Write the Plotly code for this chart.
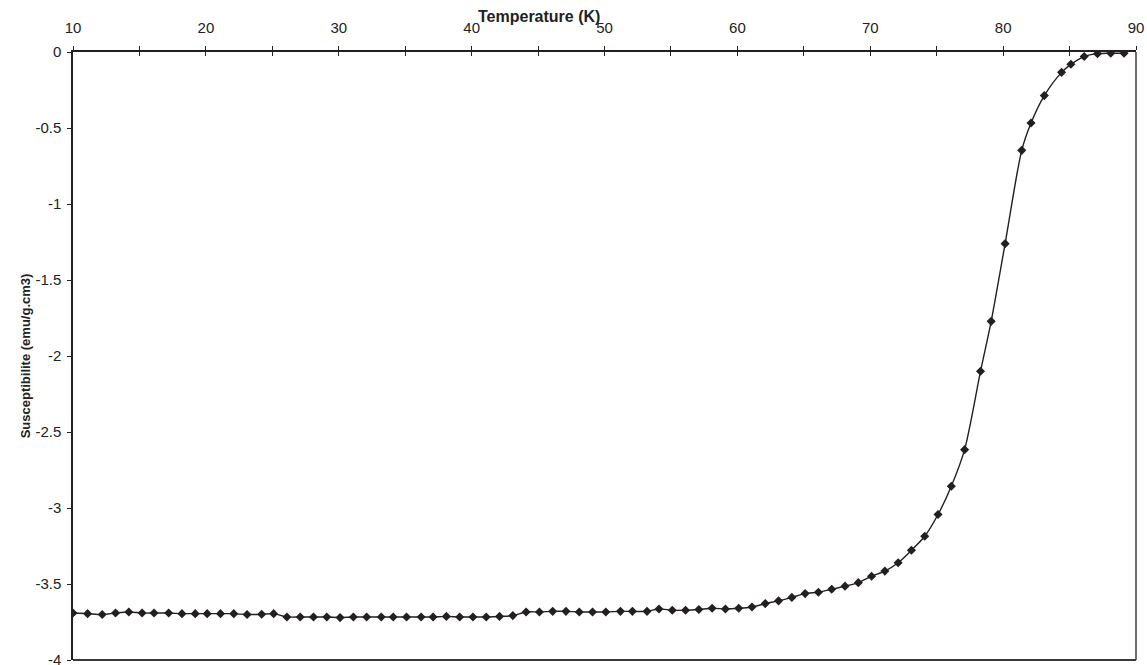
import plotly.graph_objects as go

temperature = [10.0, 11.1, 12.2, 13.2, 14.2, 15.2, 16.1, 17.2, 18.2, 19.2,
               20.1, 21.1, 22.1, 23.1, 24.2, 25.1, 26.1, 27.1, 28.1, 29.1,
               30.1, 31.1, 32.1, 33.2, 34.1, 35.1, 36.2, 37.1, 38.1, 39.1,
               40.1, 41.1, 42.1, 43.1, 44.1, 45.1, 46.1, 47.1, 48.1, 49.1,
               50.1, 51.2, 52.1, 53.2, 54.1, 55.1, 56.1, 57.1, 58.1, 59.1,
               60.1, 61.1, 62.1, 63.1, 64.1, 65.1, 66.1, 67.1, 68.1, 69.1,
               70.1, 71.1, 72.1, 73.1, 74.1, 75.1, 76.1, 77.1, 78.3, 79.1,
               80.15, 81.4, 82.1, 83.1, 84.4, 85.1, 86.1, 87.1, 88.1, 89.1]

susceptibility = [-3.691, -3.695, -3.701, -3.691, -3.684, -3.691, -3.691, -3.691, -3.695, -3.695,
                  -3.695, -3.695, -3.695, -3.701, -3.699, -3.695, -3.717, -3.717, -3.717, -3.717,
                  -3.721, -3.717, -3.717, -3.717, -3.717, -3.717, -3.717, -3.717, -3.713, -3.717,
                  -3.717, -3.717, -3.713, -3.708, -3.684, -3.684, -3.680, -3.680, -3.684, -3.684,
                  -3.684, -3.680, -3.680, -3.680, -3.664, -3.673, -3.673, -3.668, -3.660, -3.664,
                  -3.660, -3.651, -3.629, -3.611, -3.588, -3.563, -3.554, -3.535, -3.514, -3.491,
                  -3.449, -3.415, -3.360, -3.278, -3.186, -3.043, -2.857, -2.616, -2.100, -1.772,
                  -1.261, -0.647, -0.467, -0.287, -0.134, -0.081, -0.030, -0.011, -0.008, -0.008]

x_tickvals = [10, 15, 20, 25, 30, 35, 40, 45, 50, 55, 60, 65, 70, 75, 80, 85, 90]
x_ticktext = ["10", "", "20", "", "30", "", "40", "", "50", "", "60", "", "70", "", "80", "", "90"]
y_tickvals = [0, -0.5, -1, -1.5, -2, -2.5, -3, -3.5, -4]
y_ticktext = ["0", "-0.5", "-1", "-1.5", "-2", "-2.5", "-3", "-3.5", "-4"]

INK = "#231f20"
FONT = "Liberation Sans, Arial, sans-serif"

fig = go.Figure()
fig.add_trace(go.Scatter(
    x=temperature, y=susceptibility,
    mode="lines+markers",
    line=dict(color=INK, width=1.4, shape="spline", smoothing=0.8),
    marker=dict(symbol="diamond", size=7, color=INK),
    showlegend=False,
))
# invisible trace on the overlay axis so the inside ticks render
fig.add_trace(go.Scatter(x=[temperature[0]], y=[susceptibility[0]], xaxis="x2",
                         mode="markers", marker=dict(opacity=0), showlegend=False,
                         hoverinfo="skip"))

fig.update_layout(
    width=1147, height=665,
    margin=dict(l=73, r=11, t=52, b=5),
    paper_bgcolor="white", plot_bgcolor="white",
    font=dict(family=FONT, size=15, color="#222"),
    xaxis=dict(
        range=[10, 90], side="top", automargin=False,
        tickvals=x_tickvals, ticktext=x_ticktext,
        ticks="outside", ticklen=4, tickwidth=1.3, tickcolor=INK,
        ticklabelstandoff=7, ticklabeloverflow="allow",
        showline=True, linecolor=INK, linewidth=1.5,
        showgrid=False, zeroline=False,
        tickfont=dict(size=15, color="#222"),
    ),
    xaxis2=dict(
        range=[10, 90], side="top", overlaying="x", matches="x", automargin=False,
        tickvals=x_tickvals, showticklabels=False,
        ticks="inside", ticklen=4, tickwidth=1.3, tickcolor=INK,
        showline=False, showgrid=False, zeroline=False,
    ),
    yaxis=dict(
        range=[-4, 0], automargin=False,
        tickvals=y_tickvals, ticktext=y_ticktext,
        ticks="outside", ticklen=4, tickwidth=1.3, tickcolor=INK,
        ticklabelstandoff=3, ticklabeloverflow="allow",
        showline=True, linecolor=INK, linewidth=1.5,
        showgrid=False, zeroline=False,
        tickfont=dict(size=15, color="#222"),
        title=dict(text="<b>Susceptibilite (emu/g.cm3)</b>", font=dict(size=13, color="#222"), standoff=2),
    ),
    annotations=[dict(
        text="<b>Temperature (K)</b>", xref="paper", yref="paper",
        x=0.438, y=1.0, yshift=36, xanchor="center", yanchor="middle",
        showarrow=False, font=dict(size=16, color="#222"),
    )],
    shapes=[
        dict(type="line", xref="paper", yref="paper", x0=1, x1=1, y0=0, y1=1,
             line=dict(color="#6e6e6e", width=2)),
        dict(type="line", xref="paper", yref="paper", x0=0, x1=1, y0=0, y1=0,
             line=dict(color="#3a3a3a", width=2)),
    ],
)

# remove the default page margin so the figure fills the window exactly
fig.write_html("out.html", config={"displayModeBar": False},
               post_script="document.body.style.margin='0';document.body.style.overflow='hidden';")
